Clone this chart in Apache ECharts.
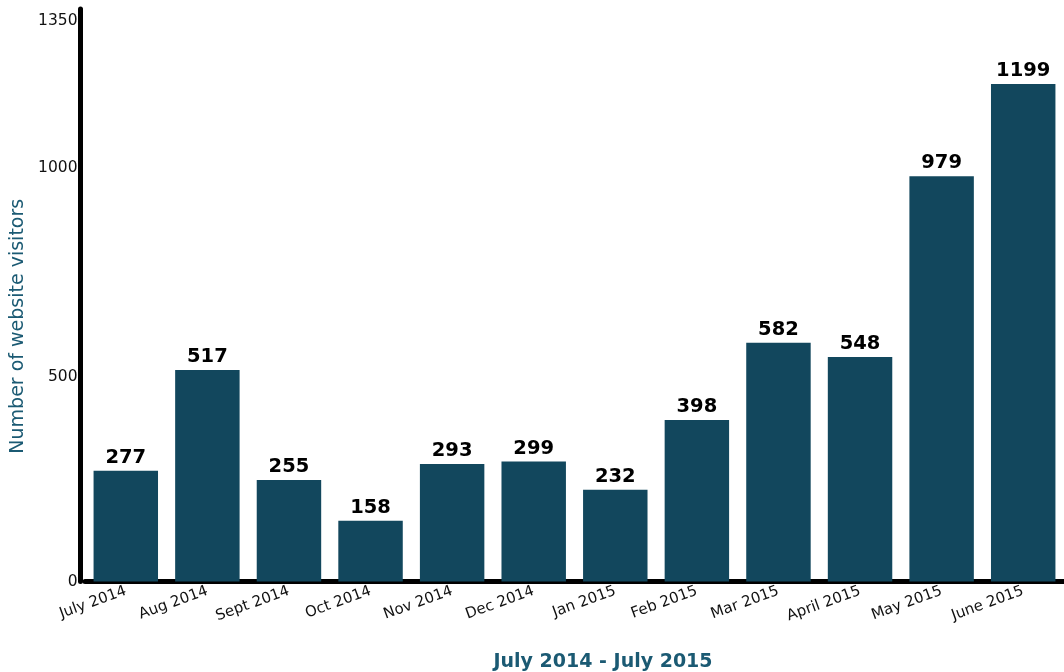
<!DOCTYPE html>
<html>
<head>
<meta charset="utf-8">
<script src="https://cdn.jsdelivr.net/npm/echarts@6/dist/echarts.min.js"></script>
<style>
  html, body { margin: 0; padding: 0; background: #ffffff; }
  #chart { width: 1064px; height: 672px; }
</style>
</head>
<body>
<div id="chart"></div>
<script>
// Monthly website visitors, July 2014 to June 2015
const months = ['July 2014', 'Aug 2014', 'Sept 2014', 'Oct 2014', 'Nov 2014', 'Dec 2014',
                'Jan 2015', 'Feb 2015', 'Mar 2015', 'April 2015', 'May 2015', 'June 2015'];
const visitors = [277, 517, 255, 158, 293, 299, 232, 398, 582, 548, 979, 1199];
const yTickLabels = [0, 500, 1000, 1350];

// The thick x-axis line sits a little above zero so the bar bases tuck under it;
// the axis floor is that small offset and gets the "0" label.
const AXIS_FLOOR = 13;
const AXIS_CEIL = 1378;

const FONT = '"DejaVu Sans", Verdana, sans-serif';
const TEAL = '#1b5a73';
const BAR = '#12475d';

const chart = echarts.init(document.getElementById('chart'));
chart.setOption({
  animation: false,
  grid: { left: 85, right: -5, top: 9, bottom: 90.5, containLabel: false },
  title: {
    text: 'July 2014 - July 2015',
    left: 598, top: 648, textAlign: 'center',
    textStyle: { color: TEAL, fontFamily: FONT, fontSize: 19, fontWeight: 'bold' }
  },
  xAxis: {
    type: 'category',
    data: months,
    axisLine: { lineStyle: { color: '#000', width: 5 } },
    axisTick: { show: false },
    axisLabel: {
      interval: 0, rotate: 20, margin: 9,
      color: '#111', fontFamily: FONT, fontSize: 15
    }
  },
  yAxis: {
    type: 'value',
    min: AXIS_FLOOR, max: AXIS_CEIL,
    offset: 4.5,
    name: 'Number of website visitors',
    nameLocation: 'middle', nameGap: 50,
    nameTextStyle: { color: TEAL, fontFamily: FONT, fontSize: 19, padding: [0, 62, 0, 0] },
    axisLine: { show: true, lineStyle: { color: '#000', width: 5 } },
    axisTick: { show: false },
    splitLine: { show: false },
    axisLabel: {
      margin: 3, color: '#111', fontFamily: FONT, fontSize: 15.5,
      customValues: [AXIS_FLOOR].concat(yTickLabels.slice(1)),
      formatter: v => (v === AXIS_FLOOR ? String(yTickLabels[0]) : String(v))
    }
  },
  series: [{
    type: 'bar',
    data: visitors,
    clip: true,
    barCategoryGap: '21%',
    itemStyle: { color: BAR },
    label: {
      show: true, position: 'top', distance: 3,
      color: '#000', fontFamily: FONT, fontSize: 19.5, fontWeight: 'bold'
    }
  }]
});
</script>
</body>
</html>
